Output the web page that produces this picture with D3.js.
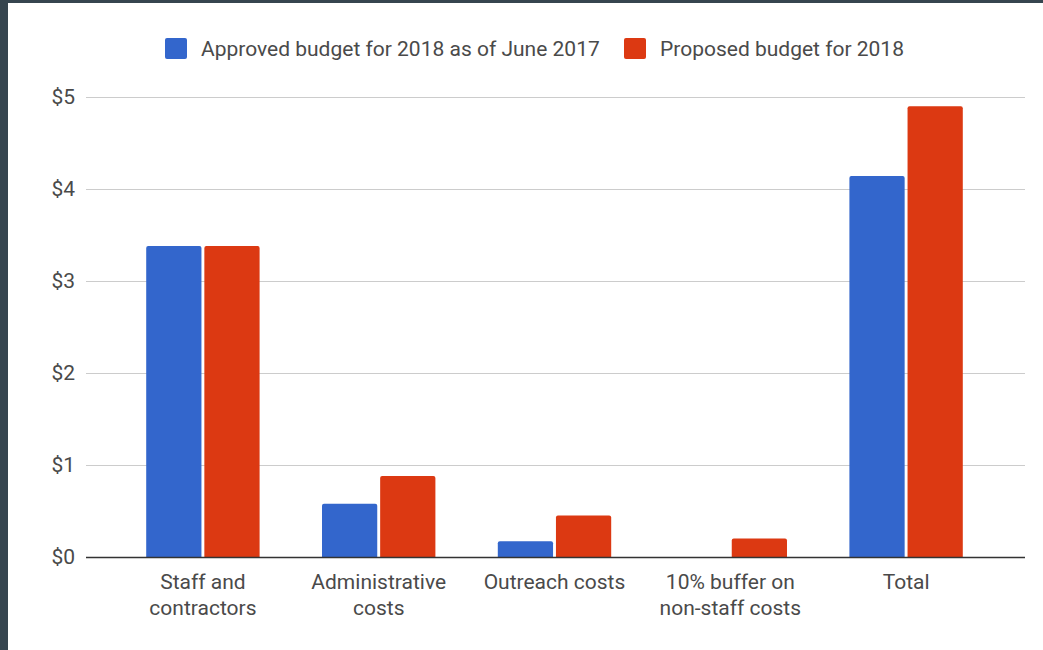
<!DOCTYPE html>
<html>
<head>
<meta charset="utf-8">
<script src="https://cdn.jsdelivr.net/npm/d3@7"></script>
<style>
  html, body { margin: 0; padding: 0; background: #36454f; }
  svg { display: block; font-family: Roboto, "Noto Sans", sans-serif; }
</style>
</head>
<body>
<svg id="chart" width="1043" height="650"></svg>
<script>
// Budget categories (multi-line labels split on "|")
const categories = ["Staff and|contractors", "Administrative|costs", "Outreach costs", "10% buffer on|non-staff costs", "Total"];
// Values in millions of dollars
const approved2018 = [3.38, 0.58, 0.17, 0, 4.14];
const proposed2018 = [3.38, 0.88, 0.45, 0.20, 4.90];
const seriesNames = ["Approved budget for 2018 as of June 2017", "Proposed budget for 2018"];
const seriesColors = ["#3366cc", "#dc3912"];
const yTicks = [0, 1, 2, 3, 4, 5];

const svg = d3.select("#chart");
const W = 1043, H = 650;
const textColor = "#4a4a4a";
const fontSize = 21;

// page frame: dark strip on top and left, white card
svg.append("rect").attr("x", 0).attr("y", 0).attr("width", W).attr("height", H).attr("fill", "#36454f");
svg.append("rect").attr("x", 8).attr("y", 3).attr("width", W - 8).attr("height", H - 3).attr("fill", "#ffffff");

const plot = { left: 86, right: 1025, top: 97, bottom: 557 };

const y = d3.scaleLinear().domain([0, 5]).range([plot.bottom, plot.top]);
const x0 = d3.scaleBand().domain(categories).range([115, 994]).paddingInner(0.355).paddingOuter(0.1775);
const x1 = d3.scaleBand().domain([0, 1]).range([0, x0.bandwidth()]).paddingInner(0.05);

// gridlines
svg.append("g")
  .selectAll("line")
  .data(yTicks.filter(t => t !== 0))
  .join("line")
  .attr("x1", plot.left).attr("x2", plot.right)
  .attr("y1", d => Math.round(y(d)) + 0.5).attr("y2", d => Math.round(y(d)) + 0.5)
  .attr("stroke", "#cccccc").attr("stroke-width", 1);

// y axis labels
const yAxis = d3.axisLeft(y).tickValues(yTicks).tickFormat(d => "$" + d).tickSize(0).tickPadding(0);
const yg = svg.append("g").attr("transform", `translate(75,0)`).call(yAxis);
yg.select(".domain").remove();
yg.selectAll("text").attr("fill", textColor).attr("font-size", fontSize).attr("font-family", "Roboto, sans-serif");

// bars
const data = categories.map((c, i) => ({ c, vals: [approved2018[i], proposed2018[i]] }));
const radius = 2;
function topRoundedPath(x, yTop, w, yBase, r) {
  const h = yBase - yTop;
  if (h <= 0) return "";
  const rr = Math.min(r, h, w / 2);
  return `M${x},${yBase}V${yTop + rr}Q${x},${yTop} ${x + rr},${yTop}H${x + w - rr}Q${x + w},${yTop} ${x + w},${yTop + rr}V${yBase}Z`;
}
const groups = svg.append("g").selectAll("g")
  .data(data).join("g")
  .attr("transform", d => `translate(${x0(d.c)},0)`);
groups.selectAll("path")
  .data(d => d.vals.map((v, k) => ({ v, k })))
  .join("path")
  .attr("d", d => topRoundedPath(x1(d.k), y(d.v), x1.bandwidth(), y(0), radius))
  .attr("fill", d => seriesColors[d.k]);

// baseline
svg.append("line")
  .attr("x1", plot.left).attr("x2", plot.right)
  .attr("y1", y(0) + 0.5).attr("y2", y(0) + 0.5)
  .attr("stroke", "#333333").attr("stroke-width", 1.5);

// category labels
const xAxis = d3.axisBottom(x0).tickSize(0).tickPadding(0).tickFormat("");
const xg = svg.append("g").attr("transform", `translate(0,${plot.bottom})`).call(xAxis);
xg.select(".domain").remove();
xg.selectAll(".tick").each(function(d) {
  const lines = d.split("|");
  const t = d3.select(this).append("text")
    .attr("text-anchor", "middle")
    .attr("fill", textColor)
    .attr("font-size", fontSize)
    .attr("font-family", "Roboto, sans-serif");
  lines.forEach((ln, i) => {
    t.append("tspan").attr("x", 0).attr("y", 32 + i * 26).text(ln);
  });
});

// legend
const legendItems = [{ x: 165, textX: 201 }, { x: 624, textX: 660 }];
const lg = svg.append("g");
seriesNames.forEach((name, i) => {
  lg.append("rect")
    .attr("x", legendItems[i].x).attr("y", 38).attr("width", 22).attr("height", 21)
    .attr("rx", 2).attr("fill", seriesColors[i]);
  lg.append("text")
    .attr("x", legendItems[i].textX).attr("y", 56)
    .attr("fill", textColor).attr("font-size", fontSize)
    .attr("font-family", "Roboto, sans-serif")
    .text(name);
});
</script>
</body>
</html>
